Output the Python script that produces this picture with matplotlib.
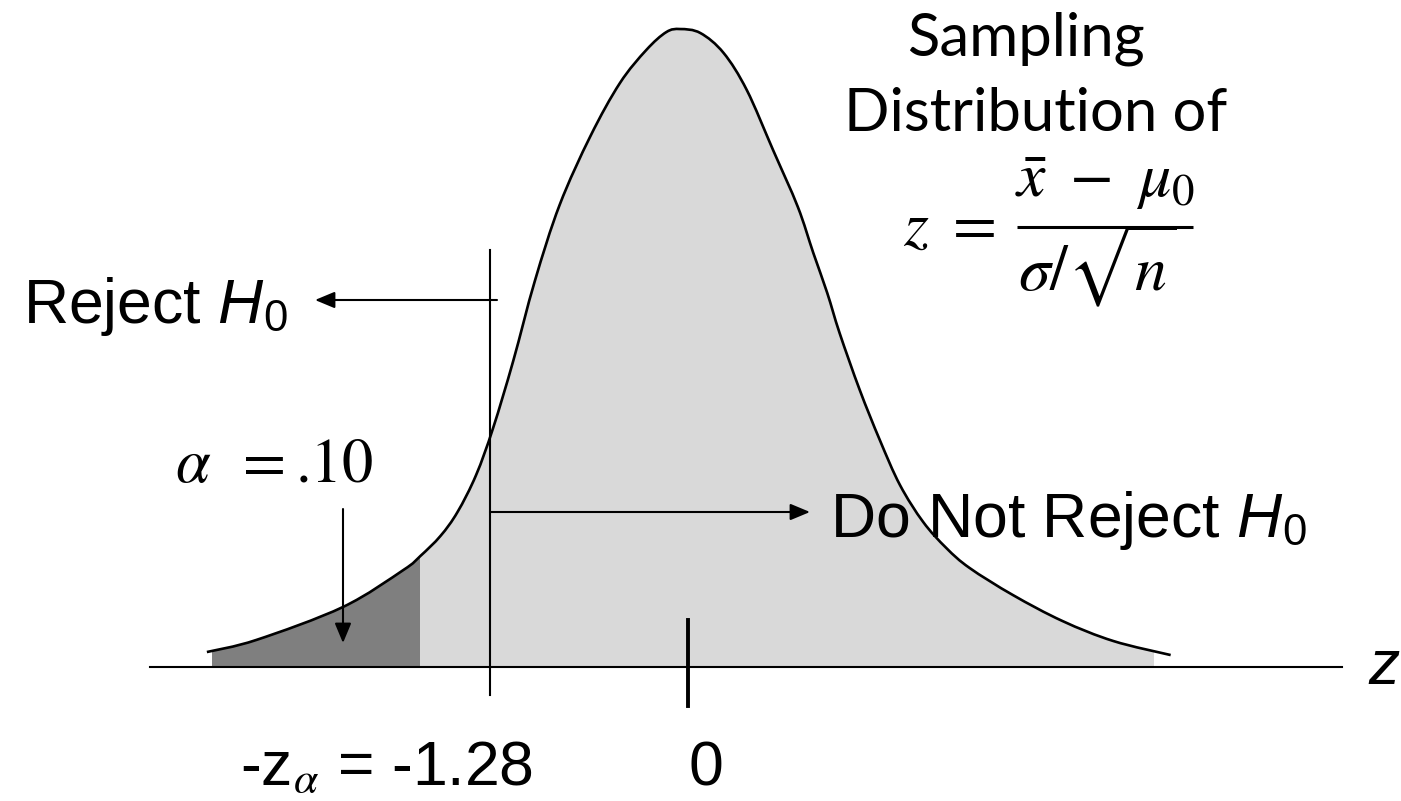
import numpy as np
import matplotlib
matplotlib.use("Agg")
import matplotlib.pyplot as plt
from matplotlib.path import Path
from matplotlib.patches import PathPatch, Rectangle

plt.rcParams['font.family'] = ['Liberation Sans', 'DejaVu Sans']
plt.rcParams['mathtext.fontset'] = 'custom'
plt.rcParams['mathtext.rm'] = 'Liberation Sans'
plt.rcParams['mathtext.sf'] = 'Liberation Sans:italic'
plt.rcParams['mathtext.it'] = 'STIXGeneral:italic'

# ---- data (z units, density units) ----
z_curve = [-3.11, -2.79, -2.23, -1.84, -1.73, -1.60, -1.49, -1.37, -1.26, -1.13,
           -0.99, -0.83, -0.63, -0.44, -0.27, -0.14, -0.05, 0.08, 0.23, 0.38,
           0.55, 0.71, 0.81, 0.90, 0.98, 1.11, 1.24, 1.37, 1.52, 1.67,
           1.82, 2.10, 2.42, 2.75, 3.12]
density = [0.0094, 0.0170, 0.0377, 0.0609, 0.0697, 0.0823, 0.0973, 0.1205, 0.1500, 0.1921,
           0.2424, 0.2901, 0.3335, 0.3667, 0.3874, 0.3987, 0.4006, 0.3981, 0.3856, 0.3623,
           0.3246, 0.2889, 0.2600, 0.2349, 0.2097, 0.1740, 0.1425, 0.1143, 0.0911, 0.0747,
           0.0622, 0.0452, 0.0289, 0.0163, 0.0075]
critical_z = -1.28
center_z = 0
alpha_label = ".10"
shade_left, shade_edge, shade_right = -3.08, -1.73, 3.01
title_lines = ["Sampling", "Distribution of"]

# ---- figure / axes: pixel layout ----
W, H = 1401, 801
fig = plt.figure(figsize=(W / 100, H / 100), dpi=100)
ax = fig.add_axes([0, 0, 1, 1])
PX_PER_Z = 154.7
PX_PER_D = 1592.5
X_ZERO_PX, Y_BASE_PX = 688, 667
ax.set_xlim(-X_ZERO_PX / PX_PER_Z, (W - X_ZERO_PX) / PX_PER_Z)
ax.set_ylim(-(H - Y_BASE_PX) / PX_PER_D, Y_BASE_PX / PX_PER_D)
ax.axis('off')


def P(px, py):
    """pixel (from top-left) -> data coords, for layout of annotations"""
    return ((px - X_ZERO_PX) / PX_PER_Z, (Y_BASE_PX - py) / PX_PER_D)


# smooth curve through the read points (Catmull-Rom -> cubic Bezier)
pts = np.column_stack([z_curve, density])
verts = [tuple(pts[0])]
codes = [Path.MOVETO]
n = len(pts)
for i in range(n - 1):
    p0 = pts[max(i - 1, 0)]
    p1 = pts[i]
    p2 = pts[i + 1]
    p3 = pts[min(i + 2, n - 1)]
    c1 = p1 + (p2 - p0) / 6
    c2 = p2 - (p3 - p1) / 6
    verts += [tuple(c1), tuple(c2), tuple(p2)]
    codes += [Path.CURVE4] * 3

curve_path = Path(verts, codes)
fill_verts = verts + [(z_curve[-1], 0), (z_curve[0], 0), (z_curve[0], 0)]
fill_codes = codes + [Path.LINETO, Path.LINETO, Path.CLOSEPOLY]
fill_path = Path(fill_verts, fill_codes)

light = PathPatch(fill_path, facecolor='#d9d9d9', edgecolor='none', zorder=1)
ax.add_patch(light)
clip_light = Rectangle((shade_left, -0.01), shade_right - shade_left, 1,
                       transform=ax.transData, visible=False)
ax.add_patch(clip_light)
light.set_clip_path(clip_light)

dark = PathPatch(fill_path, facecolor='#7f7f7f', edgecolor='none', zorder=2)
ax.add_patch(dark)
clip_dark = Rectangle((shade_left, -0.01), shade_edge - shade_left, 1,
                      transform=ax.transData, visible=False)
ax.add_patch(clip_dark)
dark.set_clip_path(clip_dark)

ax.add_patch(PathPatch(curve_path, facecolor='none', edgecolor='black', lw=1.9,
                       zorder=4, capstyle='butt'))

# axis line
ax.plot([P(150, 0)[0], P(1342, 0)[0]], [0, 0], color='black', lw=1.5, zorder=5)
# critical value line
ax.plot([critical_z, critical_z], [P(0, 250)[1], P(0, 695)[1]], color='black', lw=1.5, zorder=5)
# tick at 0
ax.plot([center_z, center_z], [P(0, 620)[1], P(0, 706)[1]], color='black', lw=2.8, zorder=5)

arrow_kw = dict(arrowstyle='-|>,head_length=0.6,head_width=0.25', color='black',
                lw=1.5, shrinkA=0, shrinkB=0, mutation_scale=20)
# Reject arrow
ax.annotate('', xy=P(315, 300), xytext=(P(497, 300)[0], P(0, 300)[1]),
            arrowprops=arrow_kw, zorder=6)
# Do not reject arrow
ax.annotate('', xy=P(810, 512), xytext=(critical_z, P(0, 512)[1]),
            arrowprops=arrow_kw, zorder=6)
# alpha arrow
ax.annotate('', xy=P(343, 643), xytext=P(343, 509), arrowprops=arrow_kw, zorder=6)

# ---- texts ----
FS = 45
ax.text(*P(23, 323), r'Reject $\mathsf{H}_0$', fontsize=FS, ha='left', va='baseline',
        math_fontfamily='custom', zorder=7)
ax.text(*P(830, 537), r'Do Not Reject $\mathsf{H}_0$', fontsize=FS, ha='left', va='baseline',
        math_fontfamily='custom', zorder=7)
# alpha = .10 (Times-like)
ax.text(*P(175, 482), r'$\alpha$', fontsize=45, math_fontfamily='stix',
        ha='left', va='baseline', zorder=7)
ax.text(*P(243, 482), '=', fontsize=45, family='STIXGeneral',
        ha='left', va='baseline', zorder=7)
ax.text(*P(296, 482), alpha_label, fontsize=45, family='STIXGeneral',
        ha='left', va='baseline', zorder=7)
ax.text(*P(240, 785), r'-$\mathrm{z}_{\alpha}$ = ' + f'{critical_z:.2f}', fontsize=FS,
        ha='left', va='baseline', math_fontfamily='custom', zorder=7)
ax.text(*P(706, 785), f'{center_z}', fontsize=FS, ha='center', va='baseline', zorder=7)
ax.text(*P(1368, 668), 'z', fontsize=FS, style='italic', ha='left', va='center', zorder=7)

# title block
ax.text(*P(1026, 56), title_lines[0], fontsize=43, family='Lato', ha='center',
        va='baseline', zorder=7)
ax.text(*P(1036, 131), title_lines[1], fontsize=43, family='Lato', ha='center',
        va='baseline', zorder=7)

# formula z = (x̄ - mu0) / (sigma / sqrt(n))
FF = 46
ax.text(*P(903, 245), r'$z\ =$', fontsize=FF, math_fontfamily='stix',
        ha='left', va='baseline', zorder=7)
ax.text(*P(1105, 197), r'$\bar{x}\ -\ \mu_0$', fontsize=FF, math_fontfamily='stix',
        ha='center', va='baseline', zorder=7)
ax.plot([P(1017, 0)[0], P(1193, 0)[0]], [P(0, 227)[1]] * 2, color='black', lw=2.2,
        zorder=7, solid_capstyle='butt')
ax.text(*P(1097, 290), r'$\sigma/\sqrt{n}$', fontsize=FF, math_fontfamily='stix',
        ha='center', va='baseline', zorder=7)

fig.savefig('out.png', dpi=100, facecolor='white')
